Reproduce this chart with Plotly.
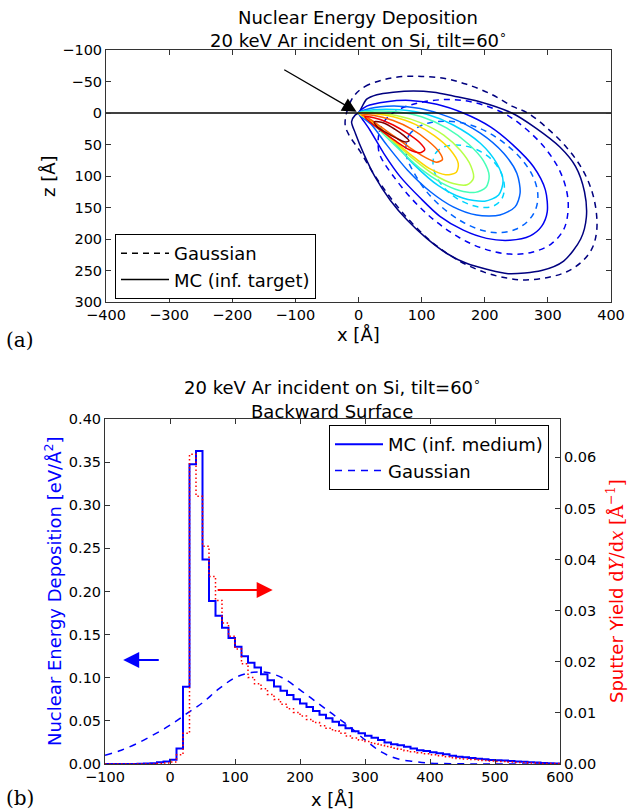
import plotly.graph_objects as go

# ---------------- top panel: contour lines (x, z in Å) ----------------
mc1_x = [0, 13, 29, 55, 87, 119, 150, 192, 243, 281, 319, 344, 358, 361, 352, 325, 290, 237, 203, 172, 140, 108, 77, 50, 26, 8, -5, -11, -5, 0]
mc1_z = [0, -22, -29, -33, -35, -33, -27, -18, 0, 24, 54, 85, 125, 165, 200, 235, 250, 255, 248, 239, 223, 199, 170, 138, 101, 64, 32, 14, 3, 0]
mc2_x = [0, 13, 45, 82, 124, 166, 209, 245, 277, 296, 299, 290, 272, 240, 203, 166, 129, 98, 66, 40, 18, 5, 0]
mc2_z = [0, -11, -18, -20, -14, 0, 22, 51, 85, 122, 157, 180, 195, 202, 199, 186, 164, 135, 101, 64, 27, 8, 0]
mc3_x = [0, 18, 55, 98, 145, 193, 230, 251, 256, 248, 224, 187, 150, 114, 77, 45, 21, 0]
mc3_z = [0, -7, -11, -7, 7, 32, 64, 96, 127, 149, 162, 162, 149, 125, 90, 51, 19, 0]
mc4_x = [0, 24, 66, 108, 150, 193, 219, 229, 222, 200, 165, 126, 88, 50, 24, 0]
mc4_z = [0, -5, -5, 2, 19, 48, 80, 108, 130, 140, 135, 115, 82, 40, 14, 0]
mc5_x = [0, 25, 60, 100, 140, 175, 198, 207, 202, 185, 160, 130, 100, 70, 40, 18, 0]
mc5_z = [0, -3, -2, 6, 24, 50, 76, 100, 118, 126, 123, 110, 90, 63, 34, 12, 0]
mc6_x = [0, 25, 60, 100, 135, 162, 178, 182, 172, 150, 120, 88, 55, 25, 0]
mc6_z = [0, 0, 4, 16, 35, 60, 84, 104, 114, 112, 98, 74, 45, 17, 0]
mc7_x = [0, 25, 55, 90, 120, 145, 158, 155, 138, 112, 85, 55, 25, 0]
mc7_z = [0, 1, 6, 18, 36, 58, 80, 94, 98, 88, 68, 43, 16, 0]
mc8_x = [5, 25, 55, 85, 110, 128, 133, 124, 105, 80, 55, 30, 12, 5]
mc8_z = [3, 4, 12, 26, 44, 62, 74, 78, 70, 54, 36, 18, 6, 3]
mc9_x = [10, 30, 55, 80, 98, 105, 98, 80, 58, 36, 18, 10]
mc9_z = [6, 9, 19, 34, 48, 58, 63, 58, 44, 28, 14, 6]
mc10_x = [25, 40, 58, 72, 80, 74, 60, 42, 30, 25]
mc10_z = [14, 16, 26, 36, 44, 46, 40, 30, 22, 14]

g1_x = [-8, 10, 40, 70, 100, 135, 170, 210, 245, 268, 300, 330, 355, 370, 377, 377, 370, 355, 330, 300, 265, 235, 200, 160, 120, 85, 55, 25, 2, -15, -21, -19, -8]
g1_z = [-26, -42, -53, -58, -58, -55, -46, -30, -10, 0, 25, 55, 90, 125, 160, 190, 215, 235, 252, 261, 265, 262, 253, 235, 208, 175, 140, 98, 60, 35, 20, 0, -26]
g2_x = [32, 33, 45, 65, 95, 130, 165, 200, 235, 265, 295, 318, 330, 332, 325, 305, 275, 240, 200, 160, 120, 85, 55, 38, 32]
g2_z = [60, 30, 8, -6, -16, -21, -20, -12, 3, 25, 55, 90, 125, 155, 185, 208, 221, 224, 216, 198, 170, 137, 100, 75, 60]
g3_x = [75, 80, 95, 115, 140, 170, 200, 230, 257, 276, 284, 281, 268, 248, 222, 195, 165, 135, 108, 88, 77, 75]
g3_z = [55, 35, 22, 15, 13, 17, 28, 47, 72, 100, 128, 152, 172, 185, 190, 186, 173, 152, 125, 95, 72, 55]
g4_x = [118, 122, 135, 153, 172, 195, 215, 228, 231, 226, 213, 197, 178, 155, 135, 122, 118]
g4_z = [79, 64, 54, 51, 53, 62, 78, 100, 122, 138, 148, 150, 146, 135, 118, 98, 79]

# ---------------- bottom panel (x in Å) ----------------
bin_left = list(range(-100, 600, 10))
mc_energy = [0, 0, 0, 0, 0, 0.0002, 0.0005, 0.001, 0.002, 0.003,
             0.005, 0.018, 0.0897,
             0.3475, 0.363, 0.237, 0.189, 0.172, 0.158, 0.146, 0.136, 0.125, 0.1175,
             0.112, 0.104, 0.097, 0.090, 0.085, 0.080, 0.075, 0.070, 0.066, 0.0615,
             0.057, 0.053, 0.049, 0.045, 0.0414, 0.038, 0.0356, 0.0328, 0.0305, 0.0278,
             0.025, 0.023, 0.0217, 0.020, 0.018, 0.016, 0.015, 0.0136, 0.0124, 0.0112,
             0.0097, 0.0085, 0.0078, 0.007, 0.0062, 0.0054, 0.0046, 0.0043, 0.004, 0.0035,
             0.003, 0.0025, 0.002, 0.0016, 0.0012, 0.0009, 0.0006, 0.0004, 0.0002, 0.0001]
sputter = [0, 0, 0, 0, 0, 0, 0, 0, 0.0001, 0.0002,
           0.0004, 0.0018, 0.006,
           0.0606, 0.0524, 0.0426, 0.0367, 0.032, 0.0276, 0.025, 0.0225, 0.0196, 0.0169,
           0.0157, 0.0147, 0.0136, 0.0126, 0.0117, 0.0108, 0.0101, 0.0094, 0.0087, 0.0081,
           0.0075, 0.007, 0.0065, 0.006, 0.0055, 0.0051, 0.0047, 0.0044, 0.0040, 0.0037,
           0.0034, 0.0031, 0.0029, 0.0026, 0.0024, 0.0022, 0.0020, 0.0018, 0.0016, 0.0014,
           0.0012, 0.0011, 0.0010, 0.0009, 0.0008, 0.0007, 0.0006, 0.0005, 0.0005, 0.0004,
           0.0003, 0.0003, 0.0002, 0.0002, 0.0001, 0.0001, 0.0001, 0, 0, 0]
gauss_x = [-100, -75, -50, -25, 0, 25, 50, 75, 100, 125, 150, 175, 200, 225, 250, 275, 300, 325, 350, 375, 400, 450, 500, 600]
gauss_e = [0.010, 0.016, 0.024, 0.034, 0.045, 0.058, 0.071, 0.087, 0.100, 0.106, 0.106, 0.099, 0.086, 0.072, 0.058, 0.044, 0.028, 0.014, 0.006, 0.003, 0.001, 0.0002, 0, 0]

x_ticks_top = [-400, -300, -200, -100, 0, 100, 200, 300, 400]
z_ticks_top = [-100, -50, 0, 50, 100, 150, 200, 250, 300]

W, H = 628, 812
def px_x(p):
    return p / W
def px_y(p):
    return 1 - p / H

jet = ['#00007f', '#0000f1', '#0063ff', '#00d4ff', '#47ffb7', '#b7ff47', '#ffd400', '#ff6300', '#f10000', '#7f0000']
FONT = 'DejaVu Sans'

fig = go.Figure()

mc_sets = [(mc1_x, mc1_z), (mc2_x, mc2_z), (mc3_x, mc3_z), (mc4_x, mc4_z), (mc5_x, mc5_z),
           (mc6_x, mc6_z), (mc7_x, mc7_z), (mc8_x, mc8_z), (mc9_x, mc9_z), (mc10_x, mc10_z)]
g_sets = [(g1_x, g1_z), (g2_x, g2_z), (g3_x, g3_z), (g4_x, g4_z)]

for i, (gx, gz) in enumerate(g_sets):
    fig.add_trace(go.Scatter(x=gx, y=gz, mode='lines', line=dict(color=jet[i], width=1.5, dash='6px,5px', shape='spline', smoothing=1.0),
                             showlegend=False, hoverinfo='skip', xaxis='x', yaxis='y'))
for i, (mx, mz) in enumerate(mc_sets):
    fig.add_trace(go.Scatter(x=mx, y=mz, mode='lines', line=dict(color=jet[i], width=1.5, shape='spline', smoothing=0.8),
                             showlegend=False, hoverinfo='skip', xaxis='x', yaxis='y'))

fig.add_trace(go.Scatter(x=[-400, 400], y=[0, 0], mode='lines', line=dict(color='black', width=1.5),
                         showlegend=False, hoverinfo='skip', xaxis='x', yaxis='y'))
fig.add_trace(go.Scatter(x=[None], y=[None], mode='lines', name='Gaussian', line=dict(color='black', width=1.5, dash='6px,5px'),
                         xaxis='x', yaxis='y', legend='legend'))
fig.add_trace(go.Scatter(x=[None], y=[None], mode='lines', name='MC (inf. target)', line=dict(color='black', width=1.5),
                         xaxis='x', yaxis='y', legend='legend'))

edges_x = bin_left + [600]
fig.add_trace(go.Scatter(x=edges_x, y=sputter + [sputter[-1]], mode='lines', line=dict(color='red', width=1.5, dash='1.5px,2.5px', shape='hv'),
                         showlegend=False, hoverinfo='skip', xaxis='x2', yaxis='y3'))
fig.add_trace(go.Scatter(x=edges_x, y=mc_energy + [mc_energy[-1]], mode='lines', name='MC (inf. medium)', line=dict(color='blue', width=2, shape='hv'),
                         xaxis='x2', yaxis='y2', legend='legend2'))
fig.add_trace(go.Scatter(x=gauss_x, y=gauss_e, mode='lines', name='Gaussian', line=dict(color='blue', width=1.5, dash='7px,6px', shape='spline'),
                         xaxis='x2', yaxis='y2', legend='legend2'))

axis_common = dict(showgrid=False, zeroline=False, showline=True, linecolor='#333', linewidth=1,
                   ticks='inside', ticklen=5, tickcolor='#333', tickfont=dict(family=FONT, size=14.5, color='black'))

fig.update_layout(
    width=W, height=H, margin=dict(l=0, r=0, t=0, b=0, autoexpand=False),
    paper_bgcolor='white', plot_bgcolor='white',
    xaxis=dict(domain=[px_x(106), px_x(611)], range=[-400, 400], tickvals=x_ticks_top, mirror='ticks', anchor='y', **axis_common),
    yaxis=dict(domain=[px_y(302), px_y(50)], range=[300, -100], tickvals=z_ticks_top, mirror='ticks', anchor='x', **axis_common),
    xaxis2=dict(domain=[px_x(105), px_x(560)], range=[-100, 600], dtick=100, mirror='ticks', anchor='y2', **axis_common),
    yaxis2=dict(domain=[px_y(764), px_y(419)], range=[0, 0.4], dtick=0.05, tickformat='.2f', anchor='x2', **axis_common),
    yaxis3=dict(overlaying='y2', side='right', range=[0, 0.0675], tickvals=[0, 0.01, 0.02, 0.03, 0.04, 0.05, 0.06], tickformat='.2f', anchor='x2', **axis_common),
    legend=dict(x=px_x(115), y=px_y(234), xanchor='left', yanchor='top', bordercolor='black', borderwidth=1, bgcolor='white',
                itemwidth=48, tracegroupgap=4, font=dict(family=FONT, size=18, color='black')),
    legend2=dict(x=px_x(329), y=px_y(425), xanchor='left', yanchor='top', bordercolor='black', borderwidth=1, bgcolor='white',
                 itemwidth=48, font=dict(family=FONT, size=18, color='black')),
)

ann = []
def text(x, y, s, size=18, color='black', angle=0, family=FONT):
    ann.append(dict(x=px_x(x), y=px_y(y), xref='paper', yref='paper', text=s, showarrow=False,
                    font=dict(family=family, size=size, color=color), textangle=angle, xanchor='center', yanchor='middle'))

text(358, 17, 'Nuclear Energy Deposition')
text(358, 39, '20 keV Ar incident on Si, tilt=60<sup>∘</sup>')
text(49, 176, 'z [Å]', angle=-90)
text(358, 334, 'x [Å]')
text(20, 340, '(a)', size=20, family='DejaVu Serif')
text(332, 386, '20 keV Ar incident on Si, tilt=60<sup>∘</sup>')
text(332, 411, 'Backward Surface')
text(332, 799, 'x [Å]')
text(20, 798, '(b)', size=20, family='DejaVu Serif')
text(53, 591, 'Nuclear Energy Deposition [eV/Å<sup>2</sup>]', color='blue', angle=-90)
text(615, 591, "Sputter Yield <span style=\"font-family:'DejaVu Serif'\">d<i>Y</i>/d<i>x</i> [Å<sup>−1</sup>]</span>", color='red', angle=-90)

ann.append(dict(x=-3, y=-2, ax=-120, ay=-70, xref='x', yref='y', axref='x', ayref='y', showarrow=True,
                arrowhead=2, arrowsize=2.2, arrowwidth=1.3, arrowcolor='black', text=''))
ann.append(dict(x=-72, y=0.1206, ax=-15, ay=0.1206, xref='x2', yref='y2', axref='x2', ayref='y2', showarrow=True,
                arrowhead=2, arrowsize=1.6, arrowwidth=2, arrowcolor='blue', text=''))
ann.append(dict(x=158, y=0.2017, ax=71, ay=0.2017, xref='x2', yref='y2', axref='x2', ayref='y2', showarrow=True,
                arrowhead=2, arrowsize=1.6, arrowwidth=2, arrowcolor='red', text=''))
fig.update_layout(annotations=ann)

fig.write_html('out.html')
